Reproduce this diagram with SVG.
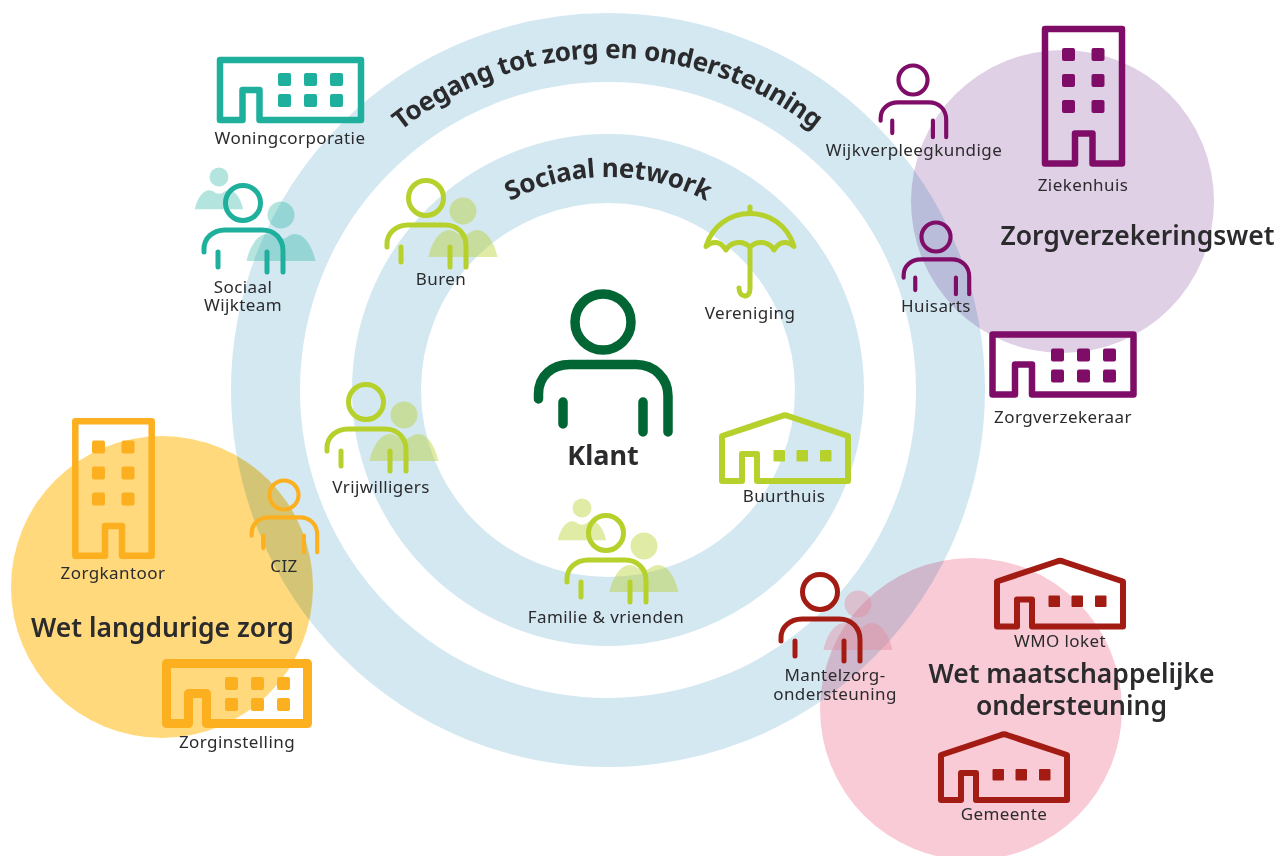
<svg xmlns="http://www.w3.org/2000/svg" width="1285" height="856" viewBox="0 0 1285 856">
<style>
text{font-family:"Noto Sans","Open Sans","Liberation Sans",sans-serif;fill:#2b2b2e;text-anchor:middle}
.l{font-size:17px;letter-spacing:.42px}
.h{font-size:26.500px;font-weight:600}
.k{font-size:27px;font-weight:700}
.a{font-size:26px;font-weight:700;text-anchor:start}
.o{fill:none;stroke:currentColor;stroke-linecap:round;stroke-linejoin:round}
.z{mix-blend-mode:multiply}
.f{fill:currentColor}
.teal{color:#1eb09d}.lime{color:#b6d02c}.purple{color:#7f0d68}.amber{color:#fdb01f}.red{color:#a31c14}.green{color:#026634}
.teal .c{opacity:.8}
</style>
<defs>
<g id="person"><circle cx="0" cy="0" r="17.5" fill="none" stroke="currentColor" stroke-width="5"/><path class="o" stroke-width="5" d="M-39 49V46C-39 35 -30 27 -18 27H19C32 27 40 36 40 48V69M-25 49V64M24 49V69"/></g>
<g id="crowd" class="f" opacity=".42"><circle cx="0" cy="0" r="13.5"/><path d="M-34.500 46C-31 30 -23 19 -14 19C-8 19 -6 24 0 24C6 24 8 19 14 19C23 19 31 30 34.500 46Z"/></g>
<path id="wide" class="o" stroke-width="6.500" d="M0 0H141V60H39.500V30H22.500V60H0Z"/>
<g id="house"><path class="o" stroke-width="6" d="M-63 21.500L-3 1.500Q0 0 3 1.500L63 21.500V66.500H-28V39.500H-43V66.500H-63Z"/><g class="f"><rect x="-11.500" y="35.500" width="11.500" height="11.500" rx="1"/><rect x="11.500" y="35.500" width="11.500" height="11.500" rx="1"/><rect x="35" y="35.500" width="11.500" height="11.500" rx="1"/></g></g>
<g id="win6w" class="f"><rect x="0" y="0" width="13" height="13" rx="2"/><rect x="26" y="0" width="13" height="13" rx="2"/><rect x="52" y="0" width="13" height="13" rx="2"/><rect x="0" y="21" width="13" height="13" rx="2"/><rect x="26" y="21" width="13" height="13" rx="2"/><rect x="52" y="21" width="13" height="13" rx="2"/></g>
<g id="win6t" class="f"><rect x="0" y="0" width="13" height="13" rx="2"/><rect x="29.500" y="0" width="13" height="13" rx="2"/><rect x="0" y="26" width="13" height="13" rx="2"/><rect x="29.500" y="26" width="13" height="13" rx="2"/><rect x="0" y="52" width="13" height="13" rx="2"/><rect x="29.500" y="52" width="13" height="13" rx="2"/></g>
</defs>
<g id="rings" fill="none" stroke="#d4e8f2" stroke-width="69">
<circle cx="608" cy="390" r="342.500"/>
<circle cx="608" cy="390" r="221.500"/>
</g>
<g id="zones">
<circle class="z" cx="1062.500" cy="201.500" r="151.500" fill="#e0d0e5"/>
<circle class="z" cx="162" cy="587" r="151" fill="#ffd97c"/>
<circle class="z" cx="971" cy="709" r="151" fill="#f9cbd6"/>
</g>
<g id="connectors"></g>
<g id="arc-labels">
<path id="a1" d="M401 130.400A332 332 0 0 1 815 130.400" fill="none"/>
<path id="a2" d="M510 201A213 213 0 0 1 706.500 201" fill="none"/>
<text class="a"><textPath href="#a1" textLength="446">Toegang tot zorg en ondersteuning</textPath></text>
<text class="a"><textPath href="#a2" textLength="204">Sociaal network</textPath></text>
</g>
<g id="woningcorporatie" class="teal"><use href="#wide" x="220" y="60"/><use href="#win6w" x="278" y="73"/><text class="l" x="290" y="144">Woningcorporatie</text></g>
<g id="sociaal-wijkteam" class="teal"><g class="c"><use href="#crowd" transform="translate(219 177) scale(.7)"/><use href="#crowd" x="281" y="215"/></g><use href="#person" x="243" y="203"/><text class="l" x="243" y="293">Sociaal</text><text class="l" x="243" y="311">Wijkteam</text></g>
<g id="buren" class="lime"><use href="#crowd" x="463" y="211"/><use href="#person" x="426" y="198"/><text class="l" x="441" y="285">Buren</text></g>
<g id="vereniging" class="lime"><path class="o" stroke-width="5" d="M706 246.500C712 226 730 213.500 750 213.500C770 213.500 788 226 794 246.500C788 241 780 240 774 250C769 241 757 240 750 247C743 240 731 241 726 250C720 240 712 241 706 246.500ZM750 213V207M750 247V289C750 299 739 298 739 288"/><text class="l" x="750" y="319">Vereniging</text></g>
<g id="klant" class="green"><circle cx="603" cy="322" r="28" fill="none" stroke="currentColor" stroke-width="9.500"/><path class="o" stroke-width="9.500" d="M538.500 399V394C538.500 376 552 364.500 570 364.500H636C654 364.500 668 378 668 396V432M563 402V424M643 402V432"/><text class="k" x="603" y="465">Klant</text></g>
<g id="vrijwilligers" class="lime"><use href="#crowd" x="404" y="415"/><use href="#person" x="366" y="402"/><text class="l" x="381" y="493">Vrijwilligers</text></g>
<g id="buurthuis" class="lime"><use href="#house" x="785" y="414.500"/><text class="l" x="784" y="502">Buurthuis</text></g>
<g id="familie" class="lime"><use href="#crowd" transform="translate(582 508) scale(.7)"/><use href="#crowd" x="644" y="546"/><use href="#person" x="606" y="533"/><text class="l" x="606" y="623">Familie &amp; vrienden</text></g>
<g id="ziekenhuis" class="purple"><path class="o" stroke-width="6.500" d="M1045 29H1122V163.500H1092.500V133.500H1075V163.500H1045Z"/><use href="#win6t" x="1062" y="48"/><text class="l" x="1083" y="191">Ziekenhuis</text></g>
<g id="wijkverpleegkundige" class="purple"><use href="#person" transform="translate(913 80) scale(.83)"/><text class="l" x="914" y="156">Wijkverpleegkundige</text></g>
<g id="huisarts" class="purple"><use href="#person" transform="translate(936 237) scale(.83)"/><text class="l" x="936" y="312">Huisarts</text></g>
<g id="zvw"><text class="h" x="1137.500" y="245">Zorgverzekeringswet</text></g>
<g id="zorgverzekeraar" class="purple"><use href="#wide" x="992.500" y="334.500"/><use href="#win6w" x="1051" y="348.500"/><text class="l" x="1063" y="423">Zorgverzekeraar</text></g>
<g id="zorgkantoor" class="amber"><path class="o" stroke-width="6.500" d="M75.300 421.300H151.700V555.800H122V526H105V555.800H75.300Z"/><use href="#win6t" x="92" y="440.500"/><text class="l" x="113" y="579">Zorgkantoor</text></g>
<g id="ciz" class="amber"><use href="#person" transform="translate(284 495) scale(.83)"/><text class="l" x="284" y="572">CIZ</text></g>
<g id="wlz"><text class="h" x="162.500" y="637">Wet langdurige zorg</text></g>
<g id="zorginstelling" class="amber"><path class="o" stroke-width="9" d="M166.500 663.500H307.500V723.500H206.500V693.500H188.500V723.500H166.500Z"/><use href="#win6w" x="225" y="677"/><text class="l" x="237" y="748">Zorginstelling</text></g>
<g id="mantelzorg" class="red"><use href="#crowd" x="858" y="604" style="color:#e58aa0"/><use href="#person" x="820" y="592"/><text class="l" x="835" y="681">Mantelzorg-</text><text class="l" x="835" y="700">ondersteuning</text></g>
<g id="wmo" class="red"><use href="#house" x="1060" y="560"/><text class="l" x="1060" y="647">WMO loket</text></g>
<g id="wmo-title"><text class="h" x="1071.500" y="683">Wet maatschappelijke</text><text class="h" x="1071.500" y="715">ondersteuning</text></g>
<g id="gemeente" class="red"><use href="#house" x="1004" y="733.500"/><text class="l" x="1004" y="820">Gemeente</text></g>
</svg>
